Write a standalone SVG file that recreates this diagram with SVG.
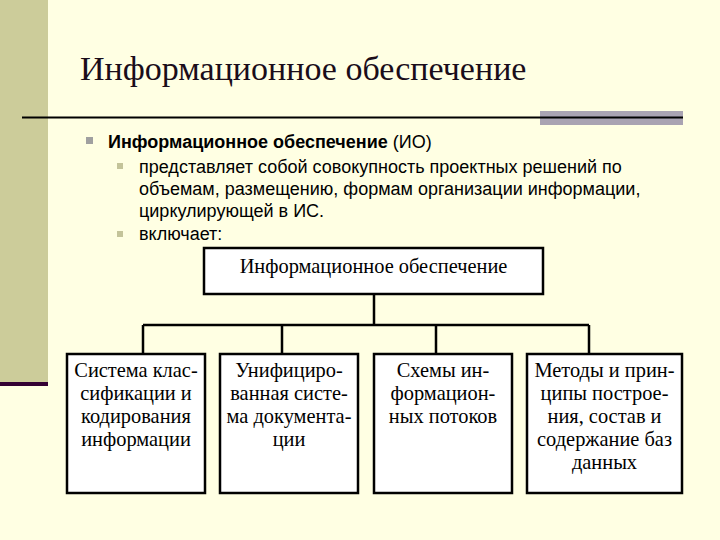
<svg xmlns="http://www.w3.org/2000/svg" width="720" height="540" viewBox="0 0 720 540">
<style>
.title{font-family:"Liberation Serif","Times New Roman",serif;font-size:34px;fill:#1a0d1a}
.b{font-family:"Liberation Sans",Arial,sans-serif;font-size:18px;fill:#000}
.s{font-family:"Liberation Sans",Arial,sans-serif;font-size:18px;fill:#000}
.bx{fill:#fff;stroke:#000;stroke-width:2.5}
.t{font-family:"Liberation Serif","Times New Roman",serif;font-size:20.4px;fill:#000;text-anchor:middle}
.c{fill:none;stroke:#000;stroke-width:2.5}
</style>
<rect x="0" y="0" width="720" height="540" fill="#FFFFE3"/>
<rect x="0" y="0" width="48" height="382" fill="#CCCC9A"/>
<rect x="0" y="382" width="48" height="4" fill="#330033"/>
<text class="title" x="80" y="80">Информационное обеспечение</text>
<rect x="540" y="111" width="143" height="14" fill="#A9A3B2"/>
<rect x="22" y="116.5" width="661" height="2" fill="#000"/>
<rect x="86" y="137" width="7" height="7" fill="#A0A0A0"/>
<text class="b" x="108" y="148"><tspan font-weight="bold">Информационное обеспечение</tspan> (ИО)</text>
<rect x="117" y="163" width="6" height="6" fill="#C4C49A"/>
<text class="s" x="139" y="173">представляет собой совокупность проектных решений по</text>
<text class="s" x="139" y="195">объемам, размещению, формам организации информации,</text>
<text class="s" x="139" y="217">циркулирующей в ИС.</text>
<rect x="117" y="231" width="6" height="6" fill="#C4C49A"/>
<text class="s" x="139" y="240">включает:</text>
<g id="connectors">
<path class="c" d="M374 294V325M143 325H589M143 325V355M282 325V355M436 325V355M589 325V355"/>
</g>
<g id="n0">
<rect class="bx" x="204" y="248" width="339" height="46"/>
<text class="t" x="373.5" y="273">Информационное обеспечение</text>
</g>
<g id="n1">
<rect class="bx" x="67" y="354" width="138" height="139"/>
<text class="t" x="136" y="377">Система клас-</text>
<text class="t" x="136" y="400">сификации и</text>
<text class="t" x="136" y="423">кодирования</text>
<text class="t" x="136" y="446">информации</text>
</g>
<g id="n2">
<rect class="bx" x="220" y="354" width="138" height="139"/>
<text class="t" x="289" y="377">Унифициро-</text>
<text class="t" x="289" y="400">ванная систе-</text>
<text class="t" x="289" y="423">ма документа-</text>
<text class="t" x="289" y="446">ции</text>
</g>
<g id="n3">
<rect class="bx" x="374" y="354" width="138" height="139"/>
<text class="t" x="443" y="377">Схемы ин-</text>
<text class="t" x="443" y="400">формацион-</text>
<text class="t" x="443" y="423">ных потоков</text>
</g>
<g id="n4">
<rect class="bx" x="527" y="354" width="155" height="139"/>
<text class="t" x="604.5" y="377">Методы и прин-</text>
<text class="t" x="604.5" y="400">ципы построе-</text>
<text class="t" x="604.5" y="423">ния, состав и</text>
<text class="t" x="604.5" y="446">содержание баз</text>
<text class="t" x="604.5" y="469">данных</text>
</g>
</svg>
